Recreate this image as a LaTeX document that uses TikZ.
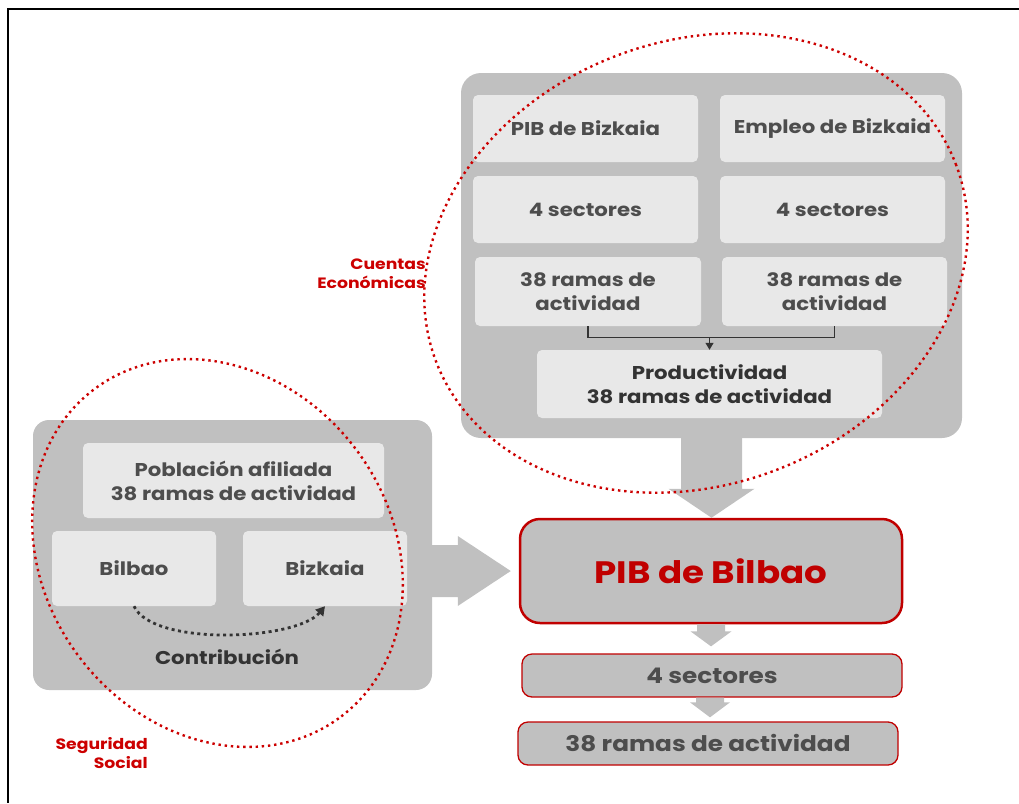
\documentclass[tikz,border=0pt]{standalone}
\usepackage{fontspec}
\setmainfont{Poppins}[FakeStretch=1.15]
\usetikzlibrary{arrows.meta,calc}
\definecolor{boxgray}{RGB}{192,192,192}
\definecolor{cellgray}{RGB}{232,232,232}
\definecolor{txtgray}{RGB}{77,77,77}
\definecolor{mydark}{RGB}{51,51,51}
\definecolor{myred}{RGB}{192,0,0}
\definecolor{dotred}{RGB}{204,0,0}

\begin{document}
\begin{tikzpicture}[x=1pt,y=-1pt,
  group/.style={fill=boxgray,rounded corners=20pt,inner sep=0pt},
  cell/.style={fill=cellgray,rounded corners=5pt,inner sep=0pt,align=center,text=txtgray,
    font=\bfseries\fontsize{18.5}{24}\selectfont},
  result/.style={fill=boxgray,draw=myred,line width=1.3pt,rounded corners=10pt,inner sep=0pt,
    text=txtgray,font=\bfseries\fontsize{21.5}{25}\selectfont},
  blockarr/.style={fill=boxgray},
  zone/.style={draw=dotred,line width=2.4pt,dash pattern=on 2.4pt off 3.8pt},
  zonelabel/.style={text=dotred,align=right,inner sep=0pt,font=\bfseries\fontsize{15}{19}\selectfont},
  link/.style={draw=mydark,line width=1.2pt}]

  \useasboundingbox (0,0) rectangle (1019,803);
  \draw[line width=2.5pt] (1019,9) -- (8,9) -- (8,803);

  % Cuentas Economicas block
  \node[group,minimum width=501,minimum height=365] (cuentas) at (711.5,255.5) {};
  \node[cell,minimum width=225,minimum height=67] (pibbiz) at (585.5,128.5) {PIB de Bizkaia};
  \node[cell,minimum width=225,minimum height=67] (empbiz) at (832.5,128.5) {Empleo de Bizkaia};
  \node[cell,minimum width=225,minimum height=67] (sec1) at (585.5,209.5) {4 sectores};
  \node[cell,minimum width=225,minimum height=67] (sec2) at (832.5,209.5) {4 sectores};
  \node[cell,minimum width=226,minimum height=69] (ramas1) at (588,291.5) {38 ramas de\\actividad};
  \node[cell,minimum width=225,minimum height=69] (ramas2) at (834.5,291.5) {38 ramas de\\actividad};
  \node[cell,text=mydark,minimum width=345,minimum height=68] (prod) at (709.5,384)
    {Productividad\\38 ramas de actividad};

  \coordinate (join) at ([yshift=12pt]prod.north);
  \draw[link] (ramas1.south) |- (join) -| (ramas2.south);
  \draw[link,-{Triangle[length=7pt,width=8pt]}] (join) -- (prod.north);

  % Seguridad Social block
  \node[group,rounded corners=16pt,minimum width=399,minimum height=270] (seg) at (232.5,555) {};
  \node[cell,minimum width=301,minimum height=75] (pobl) at (233.5,480.5)
    {Población afiliada\\38 ramas de actividad};
  \node[cell,minimum width=164,minimum height=75] (bilbao) at (134,568.5) {Bilbao};
  \node[cell,minimum width=164,minimum height=75] (bizkaia) at (325,568.5) {Bizkaia};
  \node[text=mydark,font=\bfseries\fontsize{18.5}{22}\selectfont] (contrib) at (227,657) {Contribución};

  \draw[mydark,line width=2.8pt,dash pattern=on 3pt off 3.5pt,-{Triangle[length=9pt,width=10pt]}]
    (bilbao.south) to[out=-65,in=-130,looseness=0.6] (bizkaia.south);

  % results
  \node[result,line width=2.5pt,rounded corners=20pt,text=myred,minimum width=382,minimum height=104,
    font=\bfseries\fontsize{31}{36}\selectfont] (pib) at (711,571) {PIB de Bilbao};
  \node[result,minimum width=380,minimum height=43] (sec) at (712,675.5) {4 sectores};
  \node[result,minimum width=380,minimum height=43] (ramas) at (708,743.5) {38 ramas de actividad};

  % block arrows
  \fill[blockarr] let \p1=(cuentas.south), \p2=(pib.north) in
    (\x1-30.5pt,\y1) -- (\x1-30.5pt,\y2+29pt) -- (\x1-43pt,\y2+29pt) -- (\x1,\y2)
    -- (\x1+43pt,\y2+29pt) -- (\x1+30.5pt,\y2+29pt) -- (\x1+30.5pt,\y1) -- cycle;
  \fill[blockarr] let \p1=(pib.south), \p2=([yshift=7pt]sec.north) in
    (\x1-14pt,\y1) -- (\x1-14pt,\y2+15pt) -- (\x1-20.5pt,\y2+15pt) -- (\x1,\y2)
    -- (\x1+20.5pt,\y2+15pt) -- (\x1+14pt,\y2+15pt) -- (\x1+14pt,\y1) -- cycle;
  \fill[blockarr] let \p1=(sec.south), \p2=([yshift=4pt]ramas.north) in
    (\x1-16pt,\y1) -- (\x1-16pt,\y2+15pt) -- (\x1-22pt,\y2+15pt) -- (\x1-2pt,\y2)
    -- (\x1+18pt,\y2+15pt) -- (\x1+12pt,\y2+15pt) -- (\x1+12pt,\y1) -- cycle;
  \fill[blockarr] let \p1=(seg.east), \p2=([xshift=-8pt]pib.west) in
    (\x1,\y2+26pt) -- (\x2-53pt,\y2+26pt) -- (\x2-53pt,\y2+35pt) -- (\x2,\y2)
    -- (\x2-53pt,\y2-35pt) -- (\x2-53pt,\y2-26pt) -- (\x1,\y2-26pt) -- cycle;

  % dotted zones
  \draw[zone,rotate around={20.6:(696,263)}] (696,263) ellipse [x radius=278pt,y radius=222pt];
  \draw[zone,rotate around={-52.85:(217.5,553)}] (217.5,553) ellipse [x radius=205pt,y radius=173pt];

  \node[zonelabel,anchor=east] (cuentaslbl) at (426,274) {Cuentas\\Económicas};
  \node[zonelabel,anchor=east] (seglbl) at (148,753) {Seguridad\\Social};

\end{tikzpicture}
\end{document}
